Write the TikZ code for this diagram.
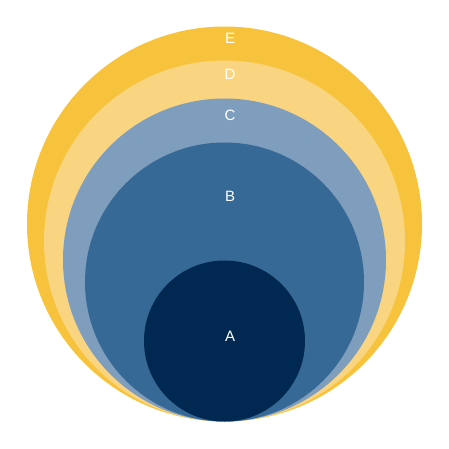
\documentclass[tikz,border=0pt]{standalone}
\usepackage{fontspec}
\setmainfont{Liberation Sans}
\usetikzlibrary{positioning}
\definecolor{cE}{HTML}{F8C33C}
\definecolor{cD}{HTML}{FAD581}
\definecolor{cC}{HTML}{7F9DBD}
\definecolor{cB}{HTML}{366995}
\definecolor{cA}{HTML}{002851}
\begin{document}
\begin{tikzpicture}[
    x=1pt, y=-1pt,
    disc/.style={circle, draw=none, inner sep=0pt, outer sep=0pt},
    lbl/.style={font=\fontsize{15}{17}\selectfont, text=white, inner sep=0pt},
]
\useasboundingbox (0,0) rectangle (449,449);

% === nested circles, all touching at the bottom ===
\node[disc, fill=cE, minimum size=395pt] (e) at (224.5,224) {};
\node[disc, fill=cD, minimum size=361pt] (d) at (224.5,241) {};
\node[disc, fill=cC, minimum size=323pt] (c) at (224.5,260) {};
\node[disc, fill=cB, minimum size=279pt] (b) at (224.5,282) {};
\node[disc, fill=cA, minimum size=161pt] (a) at (224.5,341) {};

% === labels ===
\node[lbl] (le) at (230,38.5) {E};
\node[lbl] (ld) at (230,74) {D};
\node[lbl] (lc) at (230,115.5) {C};
\node[lbl] (lb) at (230,196) {B};
\node[lbl] (la) at (230,336.5) {A};

\end{tikzpicture}
\end{document}
